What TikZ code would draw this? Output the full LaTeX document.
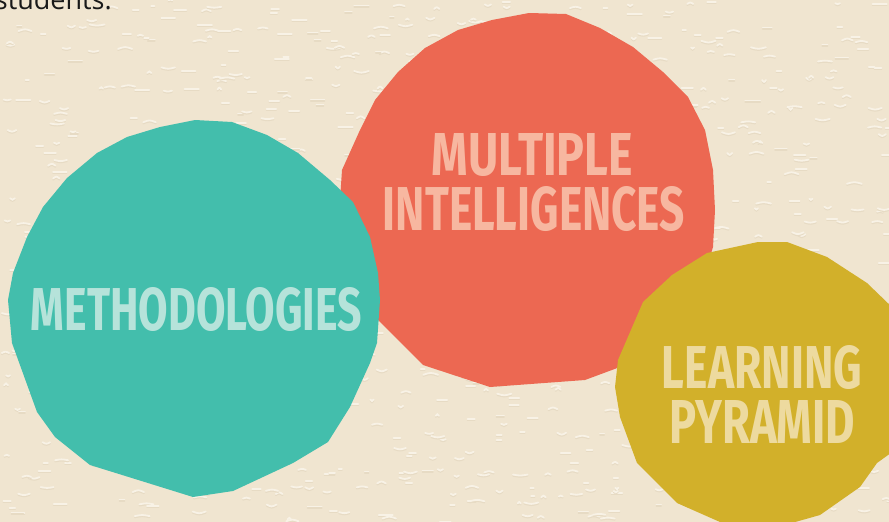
\documentclass[tikz,border=0pt]{standalone}
\usepackage{fontspec}
\usepackage{graphicx}
\setmainfont{Open Sans}
\newfontfamily\headfont{Fira Sans}
\definecolor{bgbeige}{HTML}{F0E5D0}
\definecolor{bgmark}{HTML}{F8F2E6}
\definecolor{bgshadow}{HTML}{E7DBC4}
\definecolor{tealfill}{HTML}{43BEAC}
\definecolor{tealtext}{HTML}{B6E3DA}
\definecolor{redfill}{HTML}{EC6852}
\definecolor{redtext}{HTML}{F7B7A0}
\definecolor{yelfill}{HTML}{D2B02A}
\definecolor{yeltext}{HTML}{EDDA9F}
\tikzset{
  headlabel/.style={inner sep=0pt, anchor=base},
  texmark/.style={draw=bgmark, line width=1.8pt, line cap=round},
  texshadow/.style={draw=bgshadow, line width=1.6pt, line cap=round}
}
\begin{document}
\begin{tikzpicture}[x=1pt,y=-1pt]
\useasboundingbox (0,0) rectangle (889,522);
\fill[bgbeige] (0,0) rectangle (889,522);
% paper texture
\pgfmathsetseed{7}
\foreach \i in {1,...,1000}{
  \pgfmathsetmacro\xx{rnd*889}
  \pgfmathsetmacro\yy{rnd*522}
  \pgfmathsetmacro\ll{3+rnd*12}
  \pgfmathsetmacro\bb{(rnd-0.5)*5}
  \pgfmathsetmacro\xm{\xx+\ll/2}
  \pgfmathsetmacro\ym{\yy+\bb}
  \pgfmathsetmacro\xe{\xx+\ll}
  \pgfmathsetmacro\ys{\yy+1.3}
  \pgfmathsetmacro\yms{\ym+1.3}
  \draw[texshadow] (\xx,\ys) .. controls (\xm,\yms) .. (\xe,\ys);
  \draw[texmark] (\xx,\yy) .. controls (\xm,\ym) .. (\xe,\yy);
}
\begin{scope}
\clip (0,0) rectangle (889,522);
% red blob
\fill[redfill] (529,13) -- (566,14) -- (600,28) -- (633,47) -- (663,72) -- (688,97) -- (705,130) -- (713,170) -- (715,210) -- (713,247) -- (700,290) -- (670,330) -- (620,367) -- (585,380) -- (490,387) -- (423,365) -- (378,320) -- (355,285) -- (342,240) -- (340,200) -- (342,170) -- (360,130) -- (375,100) -- (398,72) -- (425,48) -- (458,30) -- (492,20) -- cycle;
% teal blob
\fill[tealfill] (195,120) -- (232,122) -- (267,135) -- (298,153) -- (330,180) -- (353,202) -- (370,237) -- (378,273) -- (380,300) -- (377,343) -- (370,363) -- (350,407) -- (328,442) -- (293,463) -- (233,491) -- (193,497) -- (90,465) -- (55,437) -- (37,412) -- (12,343) -- (8,300) -- (13,273) -- (27,237) -- (43,207) -- (67,178) -- (97,153) -- (127,137) -- (160,127) -- cycle;
% yellow blob
\fill[yelfill] (758,242) -- (787,242) -- (827,257) -- (867,283) -- (895,310) -- (910,380) -- (895,450) -- (877,463) -- (860,487) -- (820,515) -- (767,530) -- (720,522) -- (677,503) -- (637,463) -- (620,417) -- (615,387) -- (618,360) -- (643,302) -- (672,275) -- (707,253) -- cycle;
\end{scope}
% labels
\node[headlabel, text=tealtext] (meth) at (196.5,330) {\resizebox{331pt}{43pt}{\headfont\bfseries METHODOLOGIES}};
\node[headlabel, text=redtext] (mult1) at (532.5,175) {\resizebox{201pt}{42pt}{\headfont\bfseries MULTIPLE}};
\node[headlabel, text=redtext] (mult2) at (534,230) {\resizebox{302pt}{44pt}{\headfont\bfseries INTELLIGENCES}};
\node[headlabel, text=yeltext] (learn1) at (762,388) {\resizebox{200pt}{43pt}{\headfont\bfseries LEARNING}};
\node[headlabel, text=yeltext] (learn2) at (762.5,443) {\resizebox{185pt}{43pt}{\headfont\bfseries PYRAMID}};
% cut-off text at top
\node[inner sep=0pt, anchor=base east, text=black!90, font=\fontsize{27}{32}\selectfont] (stud) at (112,9.5) {students.};
\end{tikzpicture}
\end{document}
